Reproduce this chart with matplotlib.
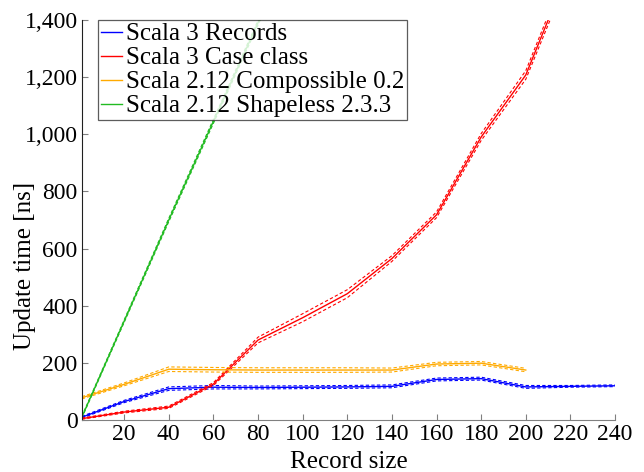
import numpy as np
import matplotlib
matplotlib.use("Agg")
import matplotlib.pyplot as plt
from matplotlib.ticker import FuncFormatter

# record sizes and update times [ns]
rec_x = [1, 20, 40, 60, 80, 100, 120, 140, 160, 180, 200, 220, 240]
rec_y = [10, 65, 110, 115, 114, 115, 116, 118, 142, 145, 116, 118, 120]
rec_err = [3, 4, 6, 6, 5, 5, 5, 5, 5, 5, 5, 3, 3]

case_x = [1, 20, 40, 60, 80, 100, 120, 140, 160, 180, 200, 220]
case_y = [5, 28, 45, 126, 280, 358, 442, 565, 718, 990, 1207, 1590]
case_err = [2, 3, 4, 5, 10, 14, 14, 10, 10, 12, 15, 18]

comp_x = [1, 20, 40, 60, 80, 100, 120, 140, 160, 180, 200]
comp_y = [78, 125, 178, 176, 175, 175, 175, 175, 196, 199, 175]
comp_err = [4, 5, 8, 8, 8, 8, 8, 7, 6, 6, 6]

shp_x = [1, 40, 80, 100]
shp_y = [10, 700, 1390, 1740]
shp_err = [3, 6, 8, 10]

series = [
    ("Scala 3 Records", rec_x, rec_y, rec_err, "#0000ff"),
    ("Scala 3 Case class", case_x, case_y, case_err, "#ff0000"),
    ("Scala 2.12 Compossible 0.2", comp_x, comp_y, comp_err, "#ffaa00"),
    ("Scala 2.12 Shapeless 2.3.3", shp_x, shp_y, shp_err, "#22bb22"),
]

plt.rcParams['font.family'] = ['Liberation Serif', 'DejaVu Serif']

fig = plt.figure(figsize=(6.44, 4.72), dpi=100)
ax = fig.add_axes([0.127, 0.110, 0.828, 0.848])

for name, xs, ys, err, col in series:
    xs = np.array(xs)
    ys = np.array(ys)
    err = np.array(err)
    ax.plot(xs, ys, color=col, lw=1.0, label=name)
    ax.plot(xs, ys + err, color=col, lw=0.8, ls=(0, (3, 2)))
    ax.plot(xs, ys - err, color=col, lw=0.8, ls=(0, (3, 2)))

ax.set_xlim(1, 240)
ax.set_ylim(0, 1400)
ax.set_xticks(range(20, 241, 20))
ax.set_yticks(range(0, 1401, 200))
ax.yaxis.set_major_formatter(FuncFormatter(lambda v, p: f"{int(v):,}"))
ax.tick_params(direction='in', length=4, color='#808080', labelsize=17, pad=3)
ax.spines['top'].set_visible(False)
ax.spines['right'].set_visible(False)
ax.spines['left'].set_color('#202020')
ax.spines['bottom'].set_color('#808080')
ax.set_xlabel("Record size", fontsize=18)
ax.set_ylabel("Update time [ns]", fontsize=18)
ax.xaxis.set_label_coords(0.5, -0.077)
ax.yaxis.set_label_coords(-0.085, 0.385)

leg = ax.legend(loc='upper left', bbox_to_anchor=(0.03, 1.0), fontsize=18,
                frameon=True, fancybox=False, handlelength=0.85, handletextpad=0.15,
                borderpad=0.12, labelspacing=0.06, borderaxespad=0)
leg.get_frame().set_edgecolor('#333333')
leg.get_frame().set_linewidth(0.9)

fig.savefig("out.png", dpi=100)
